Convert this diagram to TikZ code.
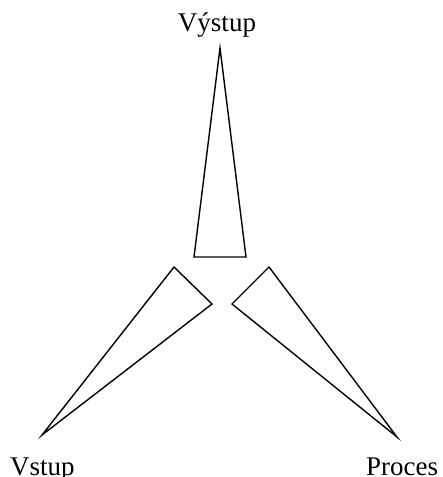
\documentclass[tikz,border=0pt]{standalone}
\usepackage{fontspec}
\setmainfont{Liberation Serif}
\begin{document}
\begin{tikzpicture}[x=1pt,y=-1pt,
  wedge/.style={draw=black,line width=1.4pt,line join=miter},
  lbl/.style={inner sep=0pt,font=\fontsize{27}{30}\selectfont}]
\useasboundingbox (0,0) rectangle (443,477);
\draw[wedge] (220,48) -- (246,257) -- (194,257) -- cycle;
\draw[wedge] (42,435) -- (174,267) -- (212,304) -- cycle;
\draw[wedge] (397,437) -- (232,304) -- (269,267) -- cycle;
\node[lbl,anchor=base] (out) at (217,31) {Výstup};
\node[lbl,anchor=base west] (in) at (10,475) {Vstup};
\node[lbl,anchor=base west] (proc) at (366,475) {Proces};
\end{tikzpicture}
\end{document}
